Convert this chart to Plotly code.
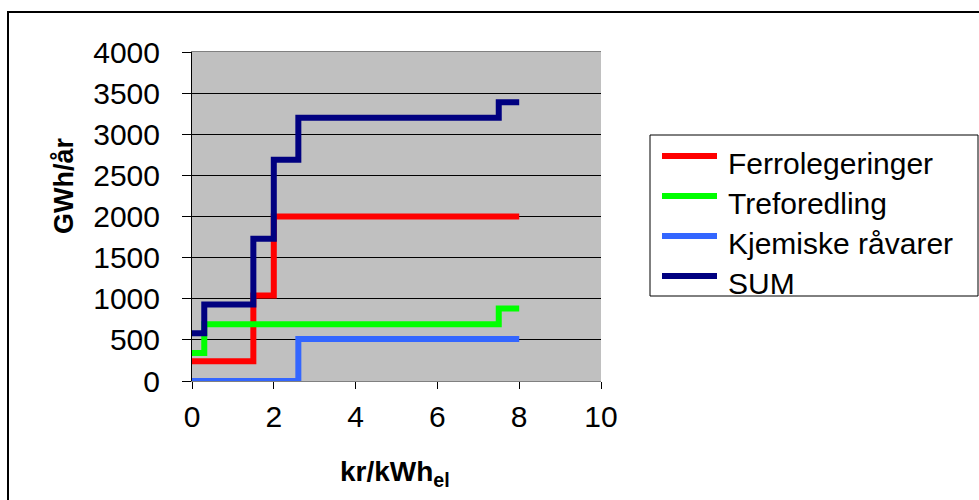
import plotly.graph_objects as go

# Data
ferro_x = [0, 1.5, 2.0, 8]
ferro_y = [240, 1040, 2000, 2000]
tref_x = [0, 0.3, 7.5, 8]
tref_y = [340, 690, 880, 880]
kjem_x = [0, 2.6, 8]
kjem_y = [0, 510, 510]
sum_x = [0, 0.3, 1.5, 2.0, 2.6, 7.5, 8]
sum_y = [580, 930, 1730, 2690, 3200, 3390, 3390]

names = ["Ferrolegeringer", "Treforedling", "Kjemiske råvarer", "SUM"]
colors = ["#FF0000", "#00FF00", "#3366FF", "#000080"]
xs = [ferro_x, tref_x, kjem_x, sum_x]
ys = [ferro_y, tref_y, kjem_y, sum_y]

W, H = 979, 500
L, R, T, B = 192, 601, 52, 381
pw, ph = R - L, B - T

def px(x):
    return (x - L) / pw

def py(y):
    return (B - y) / ph

fig = go.Figure()
for n, c, x, y in zip(names, colors, xs, ys):
    fig.add_trace(go.Scatter(x=x, y=y, name=n, mode="lines", showlegend=False,
                             line=dict(color=c, width=6, shape="hv")))

font = "Arial, Liberation Sans, sans-serif"

# manual legend (box, line samples, labels)
shapes = [dict(type="rect", xref="paper", yref="paper",
               x0=px(650), x1=px(978), y0=py(296), y1=py(135),
               line=dict(color="black", width=1), fillcolor="white", layer="above")]
annotations = []
for i, (n, c) in enumerate(zip(names, colors)):
    yl = 156 + 40 * i
    shapes.append(dict(type="line", xref="paper", yref="paper",
                       x0=px(662), x1=px(717), y0=py(yl), y1=py(yl),
                       line=dict(color=c, width=6), layer="above"))
    annotations.append(dict(text=n, xref="paper", yref="paper",
                            x=px(726), y=py(yl + 7), xanchor="left", yanchor="middle",
                            showarrow=False, font=dict(size=30)))

annotations += [
    dict(text="<b>kr/kWh<sub>el</sub></b>", xref="paper", yref="paper",
         x=px(395), y=py(473), xanchor="center", yanchor="middle",
         showarrow=False, font=dict(size=28)),
    dict(text="<b>GWh/år</b>", xref="paper", yref="paper",
         x=px(64), y=py(186), xanchor="center", yanchor="middle",
         textangle=-90, showarrow=False, font=dict(size=27)),
]
shapes.append(dict(type="rect", xref="paper", yref="paper",
                   x0=px(8), x1=px(1000), y0=py(520), y1=py(12),
                   line=dict(color="black", width=2), fillcolor="rgba(0,0,0,0)",
                   layer="above"))

fig.update_layout(
    width=W, height=H,
    margin=dict(l=L, r=W - R, t=T, b=H - B, pad=0),
    paper_bgcolor="white",
    plot_bgcolor="#C0C0C0",
    font=dict(family=font, size=30, color="black"),
    showlegend=False,
    xaxis=dict(range=[0, 10], tickvals=[0, 2, 4, 6, 8, 10],
               showgrid=False, zeroline=False, showline=True,
               linecolor="#808080", linewidth=1, mirror=True,
               ticks="outside", ticklen=7, tickcolor="black",
               ticklabelstandoff=2,
               tickfont=dict(size=30)),
    yaxis=dict(range=[0, 4000], tickvals=[0, 500, 1000, 1500, 2000, 2500, 3000, 3500, 4000],
               showgrid=True, gridcolor="black", gridwidth=1,
               zeroline=False, showline=True,
               linecolor="black", linewidth=1, mirror=False,
               ticks="outside", ticklen=9, tickcolor="black",
               ticklabelstandoff=16,
               tickfont=dict(size=30)),
    annotations=annotations,
    shapes=shapes,
)

fig.write_html("out.html")
